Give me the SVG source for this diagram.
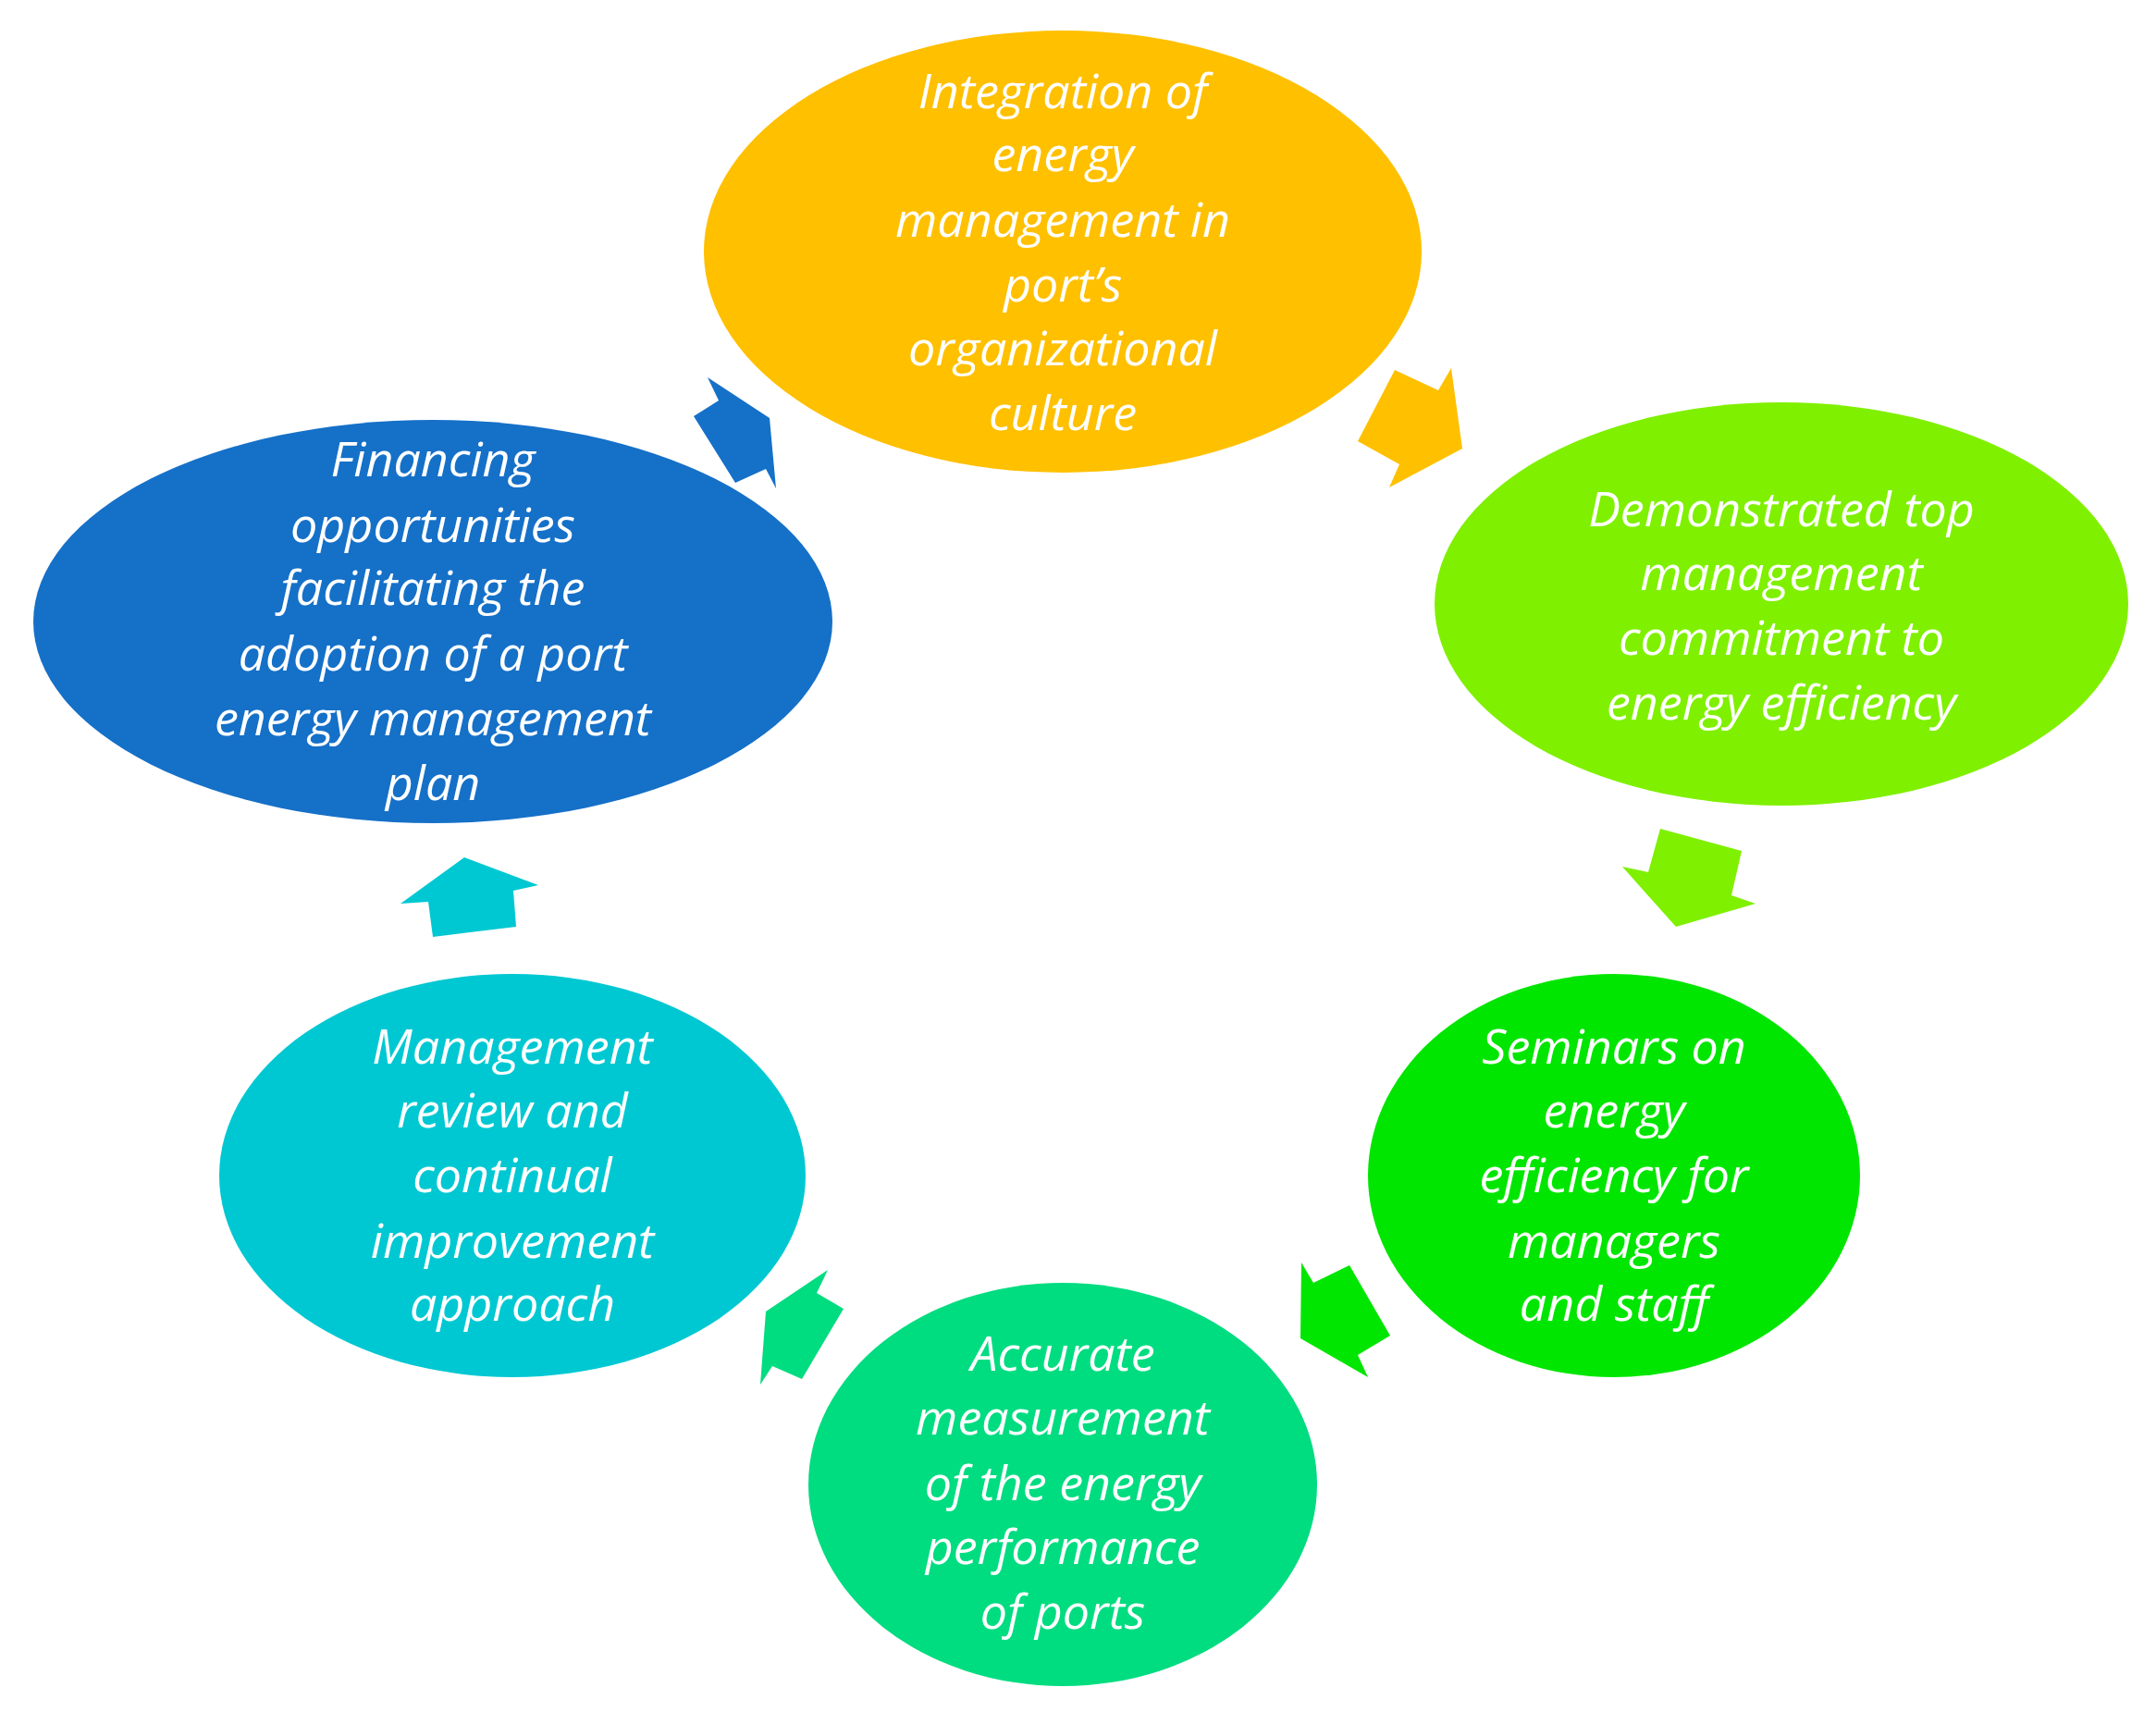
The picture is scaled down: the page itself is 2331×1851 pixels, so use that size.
<svg xmlns="http://www.w3.org/2000/svg" width="2331" height="1851" viewBox="0 0 2331 1851">
<style>
text{font-family:"Open Sans","Liberation Sans",sans-serif;font-style:italic;font-size:52px;fill:#fff;text-anchor:middle;dominant-baseline:central}
</style>
<rect width="2331" height="1851" fill="#fff"/>
<g id="n1"><ellipse cx="1149" cy="272" rx="388" ry="239" fill="#FFC000"/>
<text x="1149"><tspan x="1149" y="96">Integration of</tspan><tspan x="1149" y="164">energy</tspan><tspan x="1149" y="235">management in</tspan><tspan x="1149" y="305">port’s</tspan><tspan x="1149" y="374">organizational</tspan><tspan x="1149" y="444">culture</tspan></text></g>
<g id="n2"><ellipse cx="1926" cy="653" rx="375" ry="218" fill="#7FF000"/>
<text><tspan x="1926" y="548">Demonstrated top</tspan><tspan x="1926" y="617">management</tspan><tspan x="1926" y="687">commitment to</tspan><tspan x="1926" y="757">energy efficiency</tspan></text></g>
<g id="n3"><ellipse cx="1745" cy="1271" rx="266" ry="218" fill="#00E600"/>
<text><tspan x="1745" y="1129">Seminars on</tspan><tspan x="1745" y="1198">energy</tspan><tspan x="1745" y="1268">efficiency for</tspan><tspan x="1745" y="1339">managers</tspan><tspan x="1745" y="1407">and staff</tspan></text></g>
<g id="n4"><ellipse cx="1149" cy="1605" rx="275" ry="218" fill="#00DC80"/>
<text><tspan x="1149" y="1461">Accurate</tspan><tspan x="1149" y="1530">measurement</tspan><tspan x="1149" y="1601">of the energy</tspan><tspan x="1149" y="1670">performance</tspan><tspan x="1149" y="1740">of ports</tspan></text></g>
<g id="n5"><ellipse cx="554" cy="1271" rx="317" ry="218" fill="#00C8D2"/>
<text><tspan x="554" y="1129">Management</tspan><tspan x="554" y="1198">review and</tspan><tspan x="554" y="1268">continual</tspan><tspan x="554" y="1339">improvement</tspan><tspan x="554" y="1407">approach</tspan></text></g>
<g id="n6"><ellipse cx="468" cy="672" rx="432" ry="218" fill="#1570C8"/>
<text><tspan x="468" y="494">Financing</tspan><tspan x="468" y="565">opportunities</tspan><tspan x="468" y="633">facilitating the</tspan><tspan x="468" y="704">adoption of a port</tspan><tspan x="468" y="774">energy management</tspan><tspan x="468" y="844">plan</tspan></text></g>
<g id="connectors">
<polygon fill="#FFC000" points="1508,400 1555,422 1569,398 1581,485 1502,527 1513,502 1468,477"/>
<polygon fill="#7FF000" points="1795,896 1883,920 1872,968 1898,977 1812,1002 1754,937 1782,943"/>
<polygon fill="#00E600" points="1407,1365 1420,1387 1459,1368 1503,1444 1468,1465 1479,1489 1406,1447"/>
<polygon fill="#00DC80" points="895,1373 883,1398 912,1415 867,1491 835,1477 822,1497 828,1418"/>
<polygon fill="#00C8D2" points="502,927 582,957 555,963 558,1002 468,1013 463,975 433,977"/>
<polygon fill="#1570C8" points="765,408 832,452 839,528 828,507 795,522 750,450 777,433"/>
</g>
</svg>
